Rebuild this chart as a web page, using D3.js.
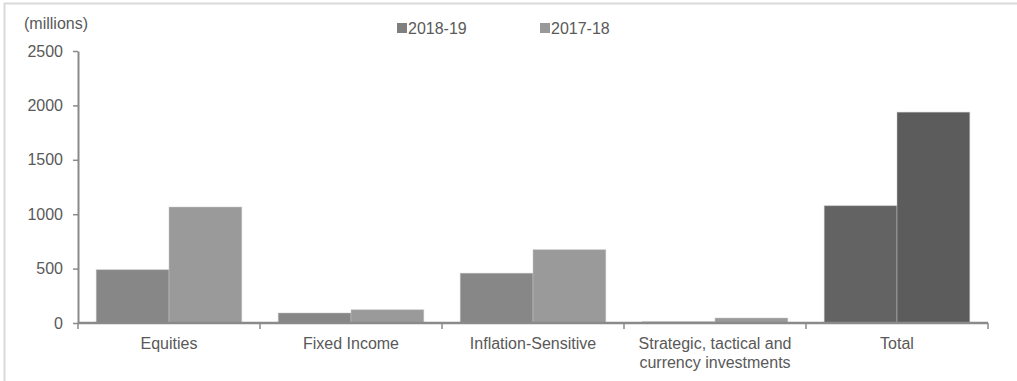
<!DOCTYPE html>
<html>
<head>
<meta charset="utf-8">
<script src="https://cdn.jsdelivr.net/npm/d3@7"></script>
<style>
  body { margin: 0; background: #fff; }
  text { font-family: "Liberation Sans", Arial, sans-serif; }
</style>
</head>
<body>
<div id="wrapper"></div>
<script>
const categories = ["Equities", "Fixed Income", "Inflation-Sensitive", "Strategic, tactical and\ncurrency investments", "Total"];
const seriesNames = ["2018-19", "2017-18"];
const values2018_19 = [490, 92, 458, 12, 1078];
const values2017_18 = [1066, 122, 674, 46, 1938];
const yTicks = [0, 500, 1000, 1500, 2000, 2500];

function drawBars() {
  let dimensions = {
    width: 1017,
    height: 381,
    margin: { top: 51, right: 29, bottom: 58, left: 78 }
  };
  dimensions.boundedWidth = dimensions.width - dimensions.margin.left - dimensions.margin.right;
  dimensions.boundedHeight = dimensions.height - dimensions.margin.top - dimensions.margin.bottom;

  const wrapper = d3.select("#wrapper")
    .append("svg")
    .attr("width", dimensions.width)
    .attr("height", dimensions.height);

  // frame
  wrapper.append("path")
    .attr("d", `M4.5,${dimensions.height} V3.5 H${dimensions.width}`)
    .attr("fill", "none")
    .attr("stroke", "#dadada")
    .attr("stroke-width", 2);

  const bounds = wrapper.append("g")
    .attr("transform", `translate(${dimensions.margin.left},${dimensions.margin.top})`);

  const xScale = d3.scaleBand()
    .domain(categories)
    .range([0, dimensions.boundedWidth])
    .padding(0);

  const bw = xScale.bandwidth();
  const xInner = d3.scaleBand()
    .domain(seriesNames)
    .range([bw * 0.1, bw * 0.9])
    .padding(0);

  const yScale = d3.scaleLinear()
    .domain([0, 2500])
    .range([dimensions.boundedHeight, 0]);

  const rows = categories.map((c, i) => ({
    category: c,
    values: [
      { series: "2018-19", value: values2018_19[i] },
      { series: "2017-18", value: values2017_18[i] }
    ]
  }));

  const colorFor = (cat, series) => {
    if (cat === "Total") return series === "2018-19" ? "#636363" : "#5c5c5c";
    return series === "2018-19" ? "#878787" : "#9a9a9a";
  };

  const groups = bounds.append("g")
    .selectAll("g")
    .data(rows)
    .enter()
    .append("g")
    .attr("transform", d => `translate(${xScale(d.category)},0)`);

  groups.selectAll("rect")
    .data(d => d.values.map(v => ({ ...v, category: d.category })))
    .enter()
    .append("rect")
    .attr("x", d => xInner(d.series))
    .attr("y", d => yScale(d.value))
    .attr("width", xInner.bandwidth())
    .attr("height", d => dimensions.boundedHeight - yScale(d.value))
    .attr("fill", d => colorFor(d.category, d.series))
    .attr("stroke", "#c8c8c8")
    .attr("stroke-opacity", 0.6)
    .attr("stroke-width", 0.8);

  // y axis
  const yAxis = bounds.append("g")
    .call(d3.axisLeft(yScale).tickValues(yTicks).tickFormat(d3.format("d"))
      .tickSize(5).tickSizeOuter(0).tickPadding(10));
  yAxis.select(".domain").attr("stroke", "#8a8a8a").attr("stroke-width", 2);
  yAxis.selectAll(".tick line").attr("stroke", "#8a8a8a").attr("stroke-width", 1.5);
  yAxis.selectAll(".tick text")
    .attr("fill", "#595959")
    .style("font-size", "16px");

  // x axis
  const xAxis = bounds.append("g")
    .attr("transform", `translate(0,${dimensions.boundedHeight})`);
  xAxis.append("line")
    .attr("x1", 0)
    .attr("x2", dimensions.boundedWidth)
    .attr("stroke", "#8a8a8a")
    .attr("stroke-width", 2.5);
  const boundaries = categories.map(c => xScale(c)).concat([xScale.range()[1]]);
  xAxis.selectAll(".xtick")
    .data(boundaries)
    .enter()
    .append("line")
    .attr("x1", d => d)
    .attr("x2", d => d)
    .attr("y1", 0)
    .attr("y2", 6)
    .attr("stroke", "#8a8a8a")
    .attr("stroke-width", 1.5);

  const xLabels = xAxis.selectAll(".xlabel")
    .data(categories)
    .enter()
    .append("text")
    .attr("x", d => xScale(d) + bw / 2)
    .attr("y", 26)
    .attr("text-anchor", "middle")
    .attr("fill", "#595959")
    .style("font-size", "16px");
  xLabels.each(function (d) {
    const lines = d.split("\n");
    d3.select(this).selectAll("tspan")
      .data(lines)
      .enter()
      .append("tspan")
      .attr("x", xScale(d) + bw / 2)
      .attr("dy", (l, i) => i === 0 ? 0 : 19)
      .text(l => l);
  });

  // unit label
  wrapper.append("text")
    .attr("x", 24)
    .attr("y", 29)
    .attr("fill", "#595959")
    .style("font-size", "16px")
    .text("(millions)");

  // legend
  const legendX = [397, 540];
  const legendColors = ["#7f7f7f", "#999999"];
  const legend = wrapper.append("g")
    .selectAll("g")
    .data(seriesNames)
    .enter()
    .append("g")
    .attr("transform", (d, i) => `translate(${legendX[i]},0)`);
  legend.append("rect")
    .attr("x", 0)
    .attr("y", 23)
    .attr("width", 10)
    .attr("height", 10)
    .attr("fill", (d, i) => legendColors[i]);
  legend.append("text")
    .attr("x", 11)
    .attr("y", 34)
    .attr("fill", "#595959")
    .style("font-size", "16px")
    .text(d => d);
}

drawBars();
</script>
</body>
</html>
